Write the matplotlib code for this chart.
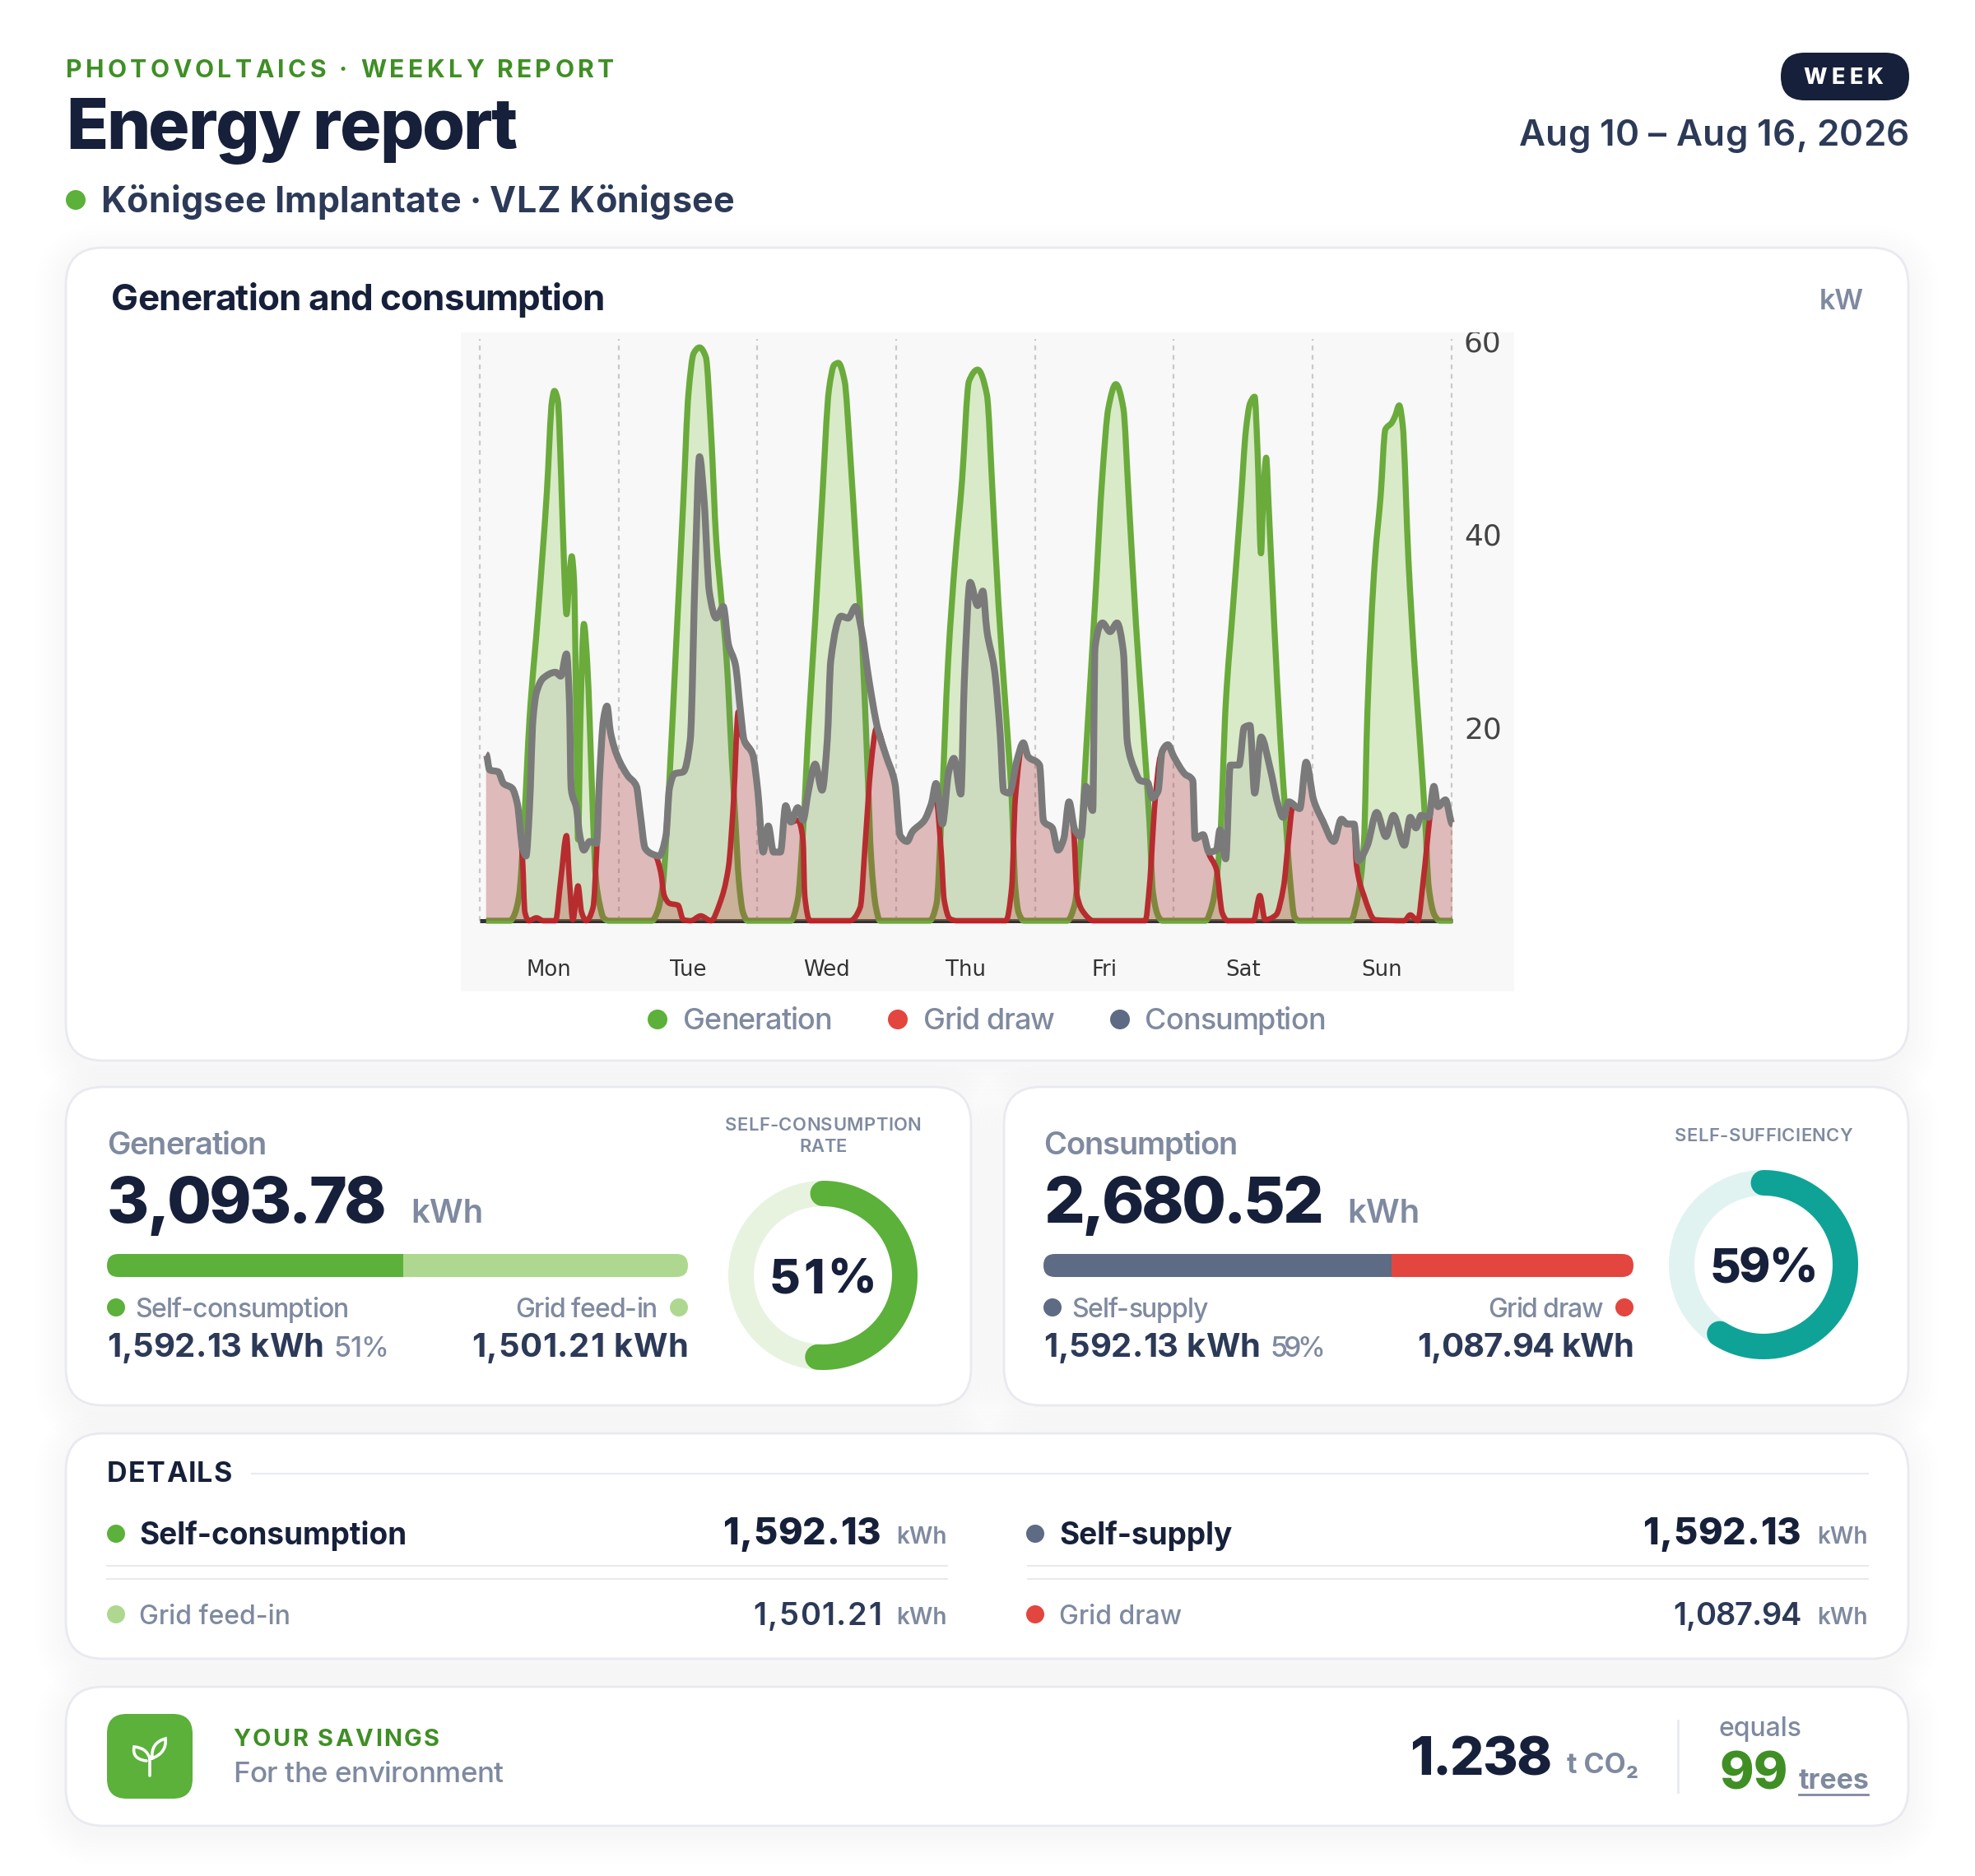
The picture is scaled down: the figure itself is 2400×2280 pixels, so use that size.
import numpy as np
import matplotlib
matplotlib.use("Agg")
import matplotlib.pyplot as plt
from matplotlib.patches import FancyBboxPatch, Circle, Wedge, PathPatch, Rectangle
from matplotlib.path import Path
from matplotlib.text import Text
from matplotlib.transforms import IdentityTransform, Bbox

plt.rcParams['font.family'] = ['Inter', 'DejaVu Sans']

# ---------- data ----------
days = ["Mon", "Tue", "Wed", "Thu", "Fri", "Sat", "Sun"]
y_ticks = [20, 40, 60]
gen_h = [1.1, 5.3, 5.9, 6.8, 7.7, 8.6, 10.1, 11.6, 12.5, 12.9, 13.5, 14.1, 14.6, 15, 15.5, 15.9, 16.3, 16.7, 17, 17.4, 18, 18.6, 19, 19.6, 20.1, 20.7, 21.4, 22.3,
         29.8, 30.7, 31.6, 32.8, 34, 35.2, 36.1, 37, 38, 39.1, 40, 40.9, 41.8, 42.7, 43.6, 44.2, 44.8, 45.5, 46.3,
         53.8, 55, 55.9, 56.8, 58, 59.2, 60.4, 61.3, 62, 63.1, 64, 65.2, 66.1, 67, 67.7, 68.5, 69.2,
         77.8, 79, 79.8, 81, 82.2, 83.4, 84.6, 86.1, 87.7, 88.7, 89.7, 91, 92, 92.6, 93.2, 94.1,
         101.6, 102.9, 103.9, 104.8, 106.4, 107.7, 108.7, 110, 111.3, 112.2, 113.5, 114.8, 115.8, 116.4, 117.4, 118,
         125.5, 126.7, 128, 129, 130.3, 131.6, 132.5, 133.2, 134, 134.5, 135.1, 135.5, 136, 136.4, 137.4, 138.4, 139.3, 140.1, 140.9, 141.6,
         150.6, 151.9, 152.9, 153.5, 154.8, 155.8, 156.6, 157.7, 158.3, 159, 159.6, 160.6, 161.6, 162.5, 163.5, 164.1, 165.1, 166, 168.2]
gen_kw = [0, 0, .5, 2.6, 10.4, 20.8, 31.9, 44.3, 53.8, 54.8, 53.8, 45.5, 36.4, 31.7, 35.6, 37.7, 35.2, 20.8, 8.4, 20.8, 30.7, 26.5, 20.8, 10.4, 4.2, 1.8, .3, 0,
          0, .9, 3.4, 14.6, 29, 43.4, 54.6, 58.7, 59.3, 58.3, 50.5, 39.3, 33.1, 26.9, 16.6, 10.4, 4.2, .9, 0,
          0, 2.2, 9.2, 19.5, 31, 43.4, 55, 57.5, 57.7, 55.8, 48.8, 37.3, 29, 16.6, 6.3, 1.4, 0,
          0, 1.8, 10.4, 26.9, 37.3, 45.5, 55.8, 57, 54.4, 44, 32.8, 21.5, 12.5, 3.5, .8, 0,
          0, 1.7, 8, 17, 32.8, 46.3, 53, 55.5, 53, 44, 30.5, 19.3, 10.3, 3, .4, 0,
          0, 1.7, 8, 22.4, 32.8, 43.2, 50.8, 53.5, 54.2, 48.6, 38, 44, 47.9, 43.2, 30.5, 19.3, 11.2, 4.4, .4, 0,
          0, 2.6, 8, 21.5, 37.3, 44, 50.8, 51.5, 52.2, 53.3, 51.3, 37.3, 27, 19.3, 10.3, 3.5, .6, 0, 0]

cons_h = [1.1, 1.7, 3.2, 4.1, 5.6, 6.5, 7.4, 8, 8.6, 9.2, 9.8, 11, 13.1, 14, 15, 15.5, 15.8, 16.7, 17.3, 18, 19, 20.2, 20.7, 21.4, 22, 22.6, 23.8, 25.6, 27.1, 27.7, 28.6, 29.8, 31, 32.2, 32.8, 33.7, 35.2, 36.4, 37.3, 38, 38.8, 39.7, 40.9, 42.1, 43, 44.2, 45.1, 45.7, 47.2, 48.1, 49, 49.9, 50.8, 52, 52.9, 53.8, 55, 55.9, 56.8, 58, 59.2, 60.1, 60.7, 62.5, 63.7, 65, 66.1, 67.3, 68.8, 70.3, 71.8, 72.7, 73.9, 74.8, 76.9, 78.1, 78.9, 80, 81.1, 82, 83.2, 83.8, 84.8, 86.1, 87, 87.7, 89, 90, 90.6, 91.6, 92.9, 94, 94.8, 96.8, 97.5, 99, 100, 101, 101.9, 102.9, 104, 104.8, 106, 106.4, 107.7, 109, 110.2, 111.3, 112, 113.2, 114.2, 115.5, 116.3, 117.3, 118, 119, 120, 121.9, 123.3, 123.7, 125.1, 126.1, 127.4, 128, 129, 129.8, 131.3, 132.2, 133.2, 134, 135.1, 136.7, 138, 138.9, 139.9, 141.8, 142.9, 144.2, 145.8, 147.7, 149, 150, 151.2, 151.9, 153.5, 155.1, 156.7, 158, 159.9, 160.9, 161.9, 162.8, 164.1, 165, 165.7, 167, 168.2]
cons_kw = [17.2, 15.6, 15.4, 14.2, 13.7, 12.1, 7.5, 6.7, 11.7, 20.8, 23.6, 25.1, 25.7, 25.3, 27.6, 22.8, 13.7, 11.7, 8.8, 7.3, 8.2, 8, 14.6, 20.8, 22.2, 19.5, 17, 15, 13.9, 11.3, 7.5, 6.9, 6.7, 8.8, 13.7, 15.2, 15.4, 18.7, 37.3, 48, 43.4, 34, 31.3, 32.5, 28.6, 26.5, 21.6, 18.7, 17.2, 13.3, 7.1, 9.8, 7.1, 7.1, 11.9, 10.2, 11.7, 10.4, 13.3, 16.2, 13.5, 18.7, 26.9, 31.5, 31.3, 32.5, 29.8, 24.9, 19.9, 17, 14.2, 8.8, 8.2, 9.2, 10.4, 12.1, 14.2, 10, 15.4, 16.8, 13.1, 24.9, 35, 32.6, 34.1, 30, 26, 19.3, 13.4, 13.2, 16.6, 18.4, 17, 16.1, 10.3, 9.6, 7.3, 8.5, 12.3, 9.4, 8.7, 13.9, 11.4, 28.3, 30.8, 29.9, 30.8, 27.8, 18.4, 15.7, 14.5, 14.3, 12.7, 13.4, 17.5, 18.2, 17, 15.2, 14.5, 8.5, 8.9, 7.1, 7.3, 9.4, 6.4, 16.1, 16.1, 20, 20.2, 13.2, 19, 15.7, 12.1, 10.7, 12.3, 11.6, 16.4, 12.5, 10.3, 8.2, 10.5, 10, 10, 6.2, 7.8, 11.2, 8.7, 10.9, 7.8, 10.7, 9.6, 10.9, 10.7, 13.9, 11.8, 12.5, 10]

grid_h = [1.1, 1.7, 3.2, 4.1, 5.6, 6.5, 7.4, 7.8, 8.5, 9.8, 11, 13.1, 14, 15, 15.5, 16.1, 17, 17.6, 18.4, 19.6, 20.2, 20.7, 21.4, 22, 22.6, 23.8, 25.6, 27.1, 27.7, 28.6, 29.8, 30.4, 31.3, 31.9, 32.8, 34.3, 35.2, 36.5, 38.2, 40, 41.5, 43, 43.9, 44.7, 45.4, 45.7, 47.2, 48.1, 49, 49.9, 50.8, 52, 52.9, 53.8, 55, 55.9, 56.2, 57.1, 64, 65.8, 66.7, 67.6, 68.6, 70.3, 71.8, 72.7, 73.9, 74.8, 76.9, 78.1, 78.9, 79.8, 80.3, 81.3, 82.5, 91, 92, 92.6, 93.9, 94.8, 96.8, 97.5, 99, 100, 101, 101.9, 102.7, 103.3, 104.5, 106.1, 115.1, 115.8, 116.8, 117.7, 119, 120, 121.9, 123.3, 123.7, 125.1, 126.1, 127.4, 128.4, 129.3, 133.8, 134.9, 135.8, 137.7, 139, 139.8, 140.6, 141.8, 142.9, 144.2, 145.8, 147.7, 149, 150, 151.2, 151.6, 152.9, 154.8, 159.9, 160.9, 162.2, 163.2, 164.3, 165, 165.7, 167, 168.2]
grid_kw = [17.2, 15.6, 15.4, 14.2, 13.7, 12.1, 6.3, .9, 0, .3, 0, 0, 4.2, 8.8, 4.2, .1, 3.6, .9, 0, 1.4, 7.1, 14.6, 20.8, 22.2, 19.5, 17, 15, 13.9, 11.3, 7.5, 6.9, 6.7, 5, 2.6, 1.8, 1.6, .1, 0, .5, 0, 1.8, 5.5, 12.5, 21.6, 19, 18.7, 17.2, 13.3, 7.1, 9.8, 7.1, 7.1, 11.9, 10.2, 10.4, 8.4, 2.6, 0, 0, 1.4, 8.4, 15.8, 19.9, 17, 14.2, 8.8, 8.2, 9.2, 10.4, 12.1, 12.5, 7.1, 2.2, .2, 0, 0, 3.5, 12.5, 18.2, 17, 16.1, 10.3, 9.6, 7.3, 8.5, 12.3, 9.4, 2.6, .8, 0, 0, 3.5, 12.5, 17, 18.2, 17, 15.2, 14.5, 8.5, 8.9, 6.9, 5.3, .8, 0, 0, 2.6, .1, .6, 3.5, 8, 11.8, 11.6, 16.4, 12.5, 10.3, 8.2, 10.5, 10, 10, 5.8, 2.6, .1, 0, .6, 0, 4.4, 10.7, 13.9, 11.8, 12.5, 10]

generation_total = 3093.78
self_consumption = 1592.13
feed_in = 1501.21
consumption_total = 2680.52
grid_draw = 1087.94
sc_rate = 51
ss_rate = 59

# ---------- colours ----------
NAVY = '#16203a'; SLATE = '#2c3a58'; GRAY = '#7f8aa0'; GREEN = '#5bb13a'; LGREEN = '#aed88f'
DGREEN = '#3f8f25'; RED = '#e2463f'; STEEL = '#5d6b84'; TEAL = '#0fa397'; BORDER = '#e8eaf0'

class TrackedText(Text):
    """One text whose letters are spaced to fill a given width (CSS letter-spacing)."""
    target_w = None

    def get_window_extent(self, renderer=None, dpi=None):
        bb = Text.get_window_extent(self, renderer, dpi)
        x = self.get_transform().transform(self.get_position())[0]
        ha = self.get_ha()
        x0 = x if ha == 'left' else (x - self.target_w if ha == 'right' else x - self.target_w / 2)
        return Bbox.from_extents(x0, bb.y0, x0 + self.target_w, bb.y1)

    def draw(self, renderer):
        fp = self.get_fontproperties()
        s = self.get_text()
        width = lambda z: renderer.get_text_width_height_descent(z, fp, False)[0]
        x, y = self.get_transform().transform(self.get_position())
        track = (self.target_w - width(s)) / max(len(s) - 1, 1)
        ha = self.get_ha()
        x0 = x if ha == 'left' else (x - self.target_w if ha == 'right' else x - self.target_w / 2)
        for i, ch in enumerate(s):
            if ch == ' ':
                continue
            dx = width(s[:i + 1]) - width(ch) + i * track
            t = Text(x0 + dx, y, ch, color=self.get_color(), fontproperties=fp, ha='left', va='baseline',
                     transform=IdentityTransform())
            t.set_figure(self.get_figure())
            t.draw(renderer)

fig = plt.figure(figsize=(24, 22.8), dpi=100, facecolor='white')
bg = fig.add_axes([0, 0, 1, 1], zorder=0)
bg.set_xlim(0, 2400); bg.set_ylim(2280, 0); bg.axis('off')

def T(x, yc, s, px, w=400, c=NAVY, ha='left', W=None, **kw):
    kw.setdefault('zorder', 6)
    t = bg.text(x, yc + 0.36 * px, s, fontsize=px * 0.72, fontweight=w, color=c, ha=ha, va='baseline', **kw)
    if W is not None:
        t.__class__ = TrackedText
        t.target_w = W
    return t

def dot(x, y, r, c):
    bg.add_patch(Circle((x, y), r, fc=c, ec='none', zorder=3))

def card(x0, y0, x1, y1, r=45):
    for i in range(8):
        g = 2 + i * 5
        bg.add_patch(FancyBboxPatch((x0 - g, y0 - g + 10), x1 - x0 + 2 * g, y1 - y0 + 2 * g,
                                    boxstyle=f"round,pad=0,rounding_size={r + g}", fc='#2c3a58', ec='none', alpha=0.0035, zorder=1))
    bg.add_patch(FancyBboxPatch((x0, y0), x1 - x0, y1 - y0, boxstyle=f"round,pad=0,rounding_size={r}",
                                fc='white', ec=BORDER, lw=2, zorder=2))

def bar(x0, x1, y0, y1, frac, c1, c2):
    clip = FancyBboxPatch((x0, y0), x1 - x0, y1 - y0, boxstyle=f"round,pad=0,rounding_size={(y1 - y0) / 2}", fc='none', ec='none', zorder=3)
    bg.add_patch(clip)
    xm = x0 + (x1 - x0) * frac
    a = bg.add_patch(Rectangle((x0, y0), xm - x0, y1 - y0, fc=c1, ec='none', zorder=3)); a.set_clip_path(clip)
    b = bg.add_patch(Rectangle((xm, y0), x1 - xm, y1 - y0, fc=c2, ec='none', zorder=3)); b.set_clip_path(clip)

def donut(cx, cy, pct, c1, c2, tw):
    R = 115; W = 31
    bg.add_patch(Wedge((cx, cy), R, 0, 360, width=W, fc=c2, ec='none', zorder=3))
    th = np.linspace(0, 2 * np.pi * pct / 100, 200)
    rm = R - W / 2
    bg.plot(cx + rm * np.sin(th), cy - rm * np.cos(th), color=c1, lw=W * 0.72, solid_capstyle='round', zorder=4)
    T(cx, cy + 1, f"{pct}%", 58, 800, NAVY, ha='center', W=tw)

# ---------- header ----------
T(80, 83, "PHOTOVOLTAICS · WEEKLY REPORT", 30, 700, DGREEN, W=666)
T(80, 151, "Energy report", 84, 800, NAVY, W=548)
dot(92, 243, 12, GREEN)
T(122, 243, "Königsee Implantate · VLZ Königsee", 43, 700, SLATE, W=770)
bg.add_patch(FancyBboxPatch((2164, 64), 156, 58, boxstyle="round,pad=0,rounding_size=29", fc=NAVY, ec='none', zorder=2))
T(2240, 92, "WEEK", 27, 800, 'white', ha='center', W=98)
T(2320, 161, "Aug 10 – Aug 16, 2026", 44, 600, SLATE, ha='right', W=474)

# ---------- cards ----------
card(80, 301, 2319, 1289)
card(80, 1321, 1180, 1708)
card(1220, 1321, 2319, 1708)
card(80, 1742, 2319, 2016)
card(80, 2050, 2319, 2219)

T(135, 361, "Generation and consumption", 44, 700, NAVY, W=600)
T(2265, 364, "kW", 34, 600, GRAY, ha='right')
for x, tx, s, c, w in [(799, 830, "Generation", GREEN, 181), (1091, 1122, "Grid draw", RED, 160), (1361, 1391, "Consumption", STEEL, 220)]:
    dot(x, 1239, 12, c)
    T(tx, 1238, s, 36, 500, GRAY, W=w)

# ---------- time-series chart ----------
def smooth_path(h, v, close=False):
    """Cubic monotone curve through the read points, as the original's line tension does."""
    h = np.asarray(h, float); v = np.asarray(v, float)
    d = np.diff(v) / np.diff(h)
    m = np.zeros_like(v)
    for i in range(1, len(v) - 1):
        if d[i - 1] * d[i] > 0:
            a, b = h[i] - h[i - 1], h[i + 1] - h[i]
            m[i] = 3 * (a + b) / ((2 * b + a) / d[i - 1] + (b + 2 * a) / d[i])
    verts = [(h[0], v[0])]; codes = [Path.MOVETO]
    for i in range(len(v) - 1):
        s = (h[i + 1] - h[i]) / 3
        verts += [(h[i] + s, v[i] + m[i] * s), (h[i + 1] - s, v[i + 1] - m[i + 1] * s), (h[i + 1], v[i + 1])]
        codes += [Path.CURVE4] * 3
    if close:
        verts += [(h[-1], 0), (h[0], 0), (h[0], v[0])]
        codes += [Path.LINETO, Path.LINETO, Path.CLOSEPOLY]
    return Path(verts, codes)

PXH = 7.027; PXK = 11.75
L, R_, TOP, BOT = 560, 1840, 404, 1205
ax = fig.add_axes([L / 2400, 1 - BOT / 2280, (R_ - L) / 2400, (BOT - TOP) / 2280], zorder=5, facecolor='#f8f8f8')
ax.set_xlim((L - 583) / PXH, (R_ - 583) / PXH)
ax.set_ylim((1119 - BOT) / PXK, (1119 - TOP) / PXK)
for s in ax.spines.values():
    s.set_visible(False)
ax.vlines(np.arange(8) * 24, 0, 60.2, color='#c9c9c9', lw=1.6, linestyles=(0, (2.6, 2.6)), zorder=1)
ax.plot([0, 168.2], [0, 0], color='#333333', lw=3.6, solid_capstyle='butt', zorder=1.5)
series = [(gen_h, gen_kw, '#92cc5a', 0.3, '#6aab3c', 5.3, 2),
          (grid_h, grid_kw, '#c81e1e', 0.24, '#c02024', 4.8, 4),
          (cons_h, cons_kw, '#808080', 0.13, '#7a7a7a', 6.0, 6)]
for h, v, fc, al, lc, lw, z in series:
    ax.add_patch(PathPatch(smooth_path(h, v, True), fc=fc, alpha=al, ec='none', zorder=z))
    ax.add_patch(PathPatch(smooth_path(h, v), fc='none', ec=lc, lw=lw, joinstyle='round', capstyle='butt', zorder=z + 1))
ax.set_xticks((np.arange(7) + 0.5) * 24, days)
ax.tick_params(axis='x', length=0, pad=-28, labelsize=26 * 0.72, labelcolor='#333333')
ax.yaxis.tick_right()
ax.set_yticks(y_ticks, [str(v) for v in y_ticks])
ax.tick_params(axis='y', length=0, pad=-44, labelsize=36 * 0.72, labelcolor='#444444')
for lab in ax.get_xticklabels() + ax.get_yticklabels():
    lab.set_fontfamily(['DejaVu Sans'])
for lab in ax.get_yticklabels():
    lab.set_clip_on(True)
    lab.set_clip_box(ax.bbox)

# ---------- KPI cards ----------
objw = {"Generation": 194, "Consumption": 236}

def kpi(x, title, total, left_lab, right_lab, frac, c1, c2, lv, pct, rv, right_end, llw, rlw):
    T(x, 1389, title, 38, 600, GRAY, W=objw[title])
    T(x, 1458, f"{total:,.2f}", 78, 800, NAVY, W=340)
    T(x + 369, 1472, "kWh", 40, 600, GRAY)
    bar(x, right_end, 1524, 1552, frac, c1, c2)
    dot(x + 11, 1589, 11, c1)
    T(x + 34, 1589, left_lab, 32, 500, GRAY, W=llw)
    dot(right_end - 11, 1589, 11, c2)
    T(right_end - 37, 1589, right_lab, 32, 500, GRAY, ha='right', W=rlw)
    T(x, 1635, f"{lv:,.2f} kWh", 40, 700, SLATE, W=263)
    T(x + 275, 1637, f"{pct}%", 34, 500, GRAY, W=67)
    T(right_end, 1635, f"{rv:,.2f} kWh", 40, 700, SLATE, ha='right', W=263)

kpi(130, "Generation", generation_total, "Self-consumption", "Grid feed-in", sc_rate / 100,
    GREEN, LGREEN, self_consumption, sc_rate, feed_in, 836, 260, 173)
kpi(1268, "Consumption", consumption_total, "Self-supply", "Grid draw", ss_rate / 100,
    STEEL, RED, self_consumption, ss_rate, grid_draw, 1985, 166, 140)
T(1000, 1366, "SELF-CONSUMPTION", 22, 600, GRAY, ha='center', W=239)
T(1000, 1392, "RATE", 22, 600, GRAY, ha='center', W=58)
T(2143, 1379, "SELF-SUFFICIENCY", 22, 600, GRAY, ha='center', W=216)
donut(1000, 1550, sc_rate, GREEN, '#e8f3df', 130)
donut(2143, 1537, ss_rate, TEAL, '#e0f3f1', 131)

# ---------- details ----------
T(130, 1789, "DETAILS", 34, 700, NAVY, W=152)
bg.plot([306, 2270], [1791, 1791], color=BORDER, lw=1.5, zorder=3)
for y in (1903, 1919):
    bg.plot([130, 1151], [y, y], color=BORDER, lw=1.5, zorder=3)
    bg.plot([1249, 2270], [y, y], color=BORDER, lw=1.5, zorder=3)
rows = [(141, 169, 1071, 1151, "Self-consumption", self_consumption, GREEN, True),
        (141, 169, 1071, 1151, "Grid feed-in", feed_in, LGREEN, False),
        (1258, 1287, 2189, 2270, "Self-supply", self_consumption, STEEL, True),
        (1258, 1287, 2189, 2270, "Grid draw", grid_draw, RED, False)]
for dx, tx, vx, ux, lab, val, c, main in rows:
    y = 1864 if main else 1962
    dot(dx, y, 11, c)
    if main:
        T(tx, y, lab, 37, 700, NAVY)
        T(vx, y - 3, f"{val:,.2f}", 45, 800, NAVY, ha='right', W=193)
    else:
        T(tx, y, lab, 32, 500, GRAY)
        T(vx, y - 1, f"{val:,.2f}", 38, 600, SLATE, ha='right', W=156)
    T(ux, y + 2, "kWh", 28, 600, GRAY, ha='right')

# ---------- savings ----------
bg.add_patch(FancyBboxPatch((130, 2083), 104, 103, boxstyle="round,pad=0,rounding_size=24", fc=GREEN, ec='none', zorder=3))
sprout = Path([(182, 2158), (182, 2137), (185, 2137), (183, 2118), (201, 2113), (203, 2130), (185, 2137),
               (178, 2140), (160, 2138), (163, 2123), (178, 2124), (182, 2137)],
              [Path.MOVETO, Path.LINETO, Path.MOVETO, Path.CURVE3, Path.CURVE3, Path.CURVE3, Path.CURVE3,
               Path.MOVETO, Path.CURVE3, Path.CURVE3, Path.CURVE3, Path.CURVE3])
bg.add_patch(PathPatch(sprout, fc='none', ec='white', lw=2.6, capstyle='round', zorder=4))
T(283, 2112, "YOUR SAVINGS", 29, 700, DGREEN, W=251)
T(283, 2153, "For the environment", 35, 500, GRAY, W=329)
T(1713, 2134, "1.238", 65, 800, NAVY, W=173)
T(1904, 2143, "t CO₂", 34, 700, GRAY)
bg.plot([2039, 2039], [2091, 2178], color=BORDER, lw=2, zorder=3)
T(2089, 2098, "equals", 32, 500, GRAY)
T(2089, 2152, "99", 63, 800, DGREEN)
T(2186, 2162, "trees", 34, 700, GRAY)
bg.plot([2186, 2270], [2181, 2181], color=GRAY, lw=2, zorder=3)

fig.savefig("out.png", dpi=100, facecolor='white')
